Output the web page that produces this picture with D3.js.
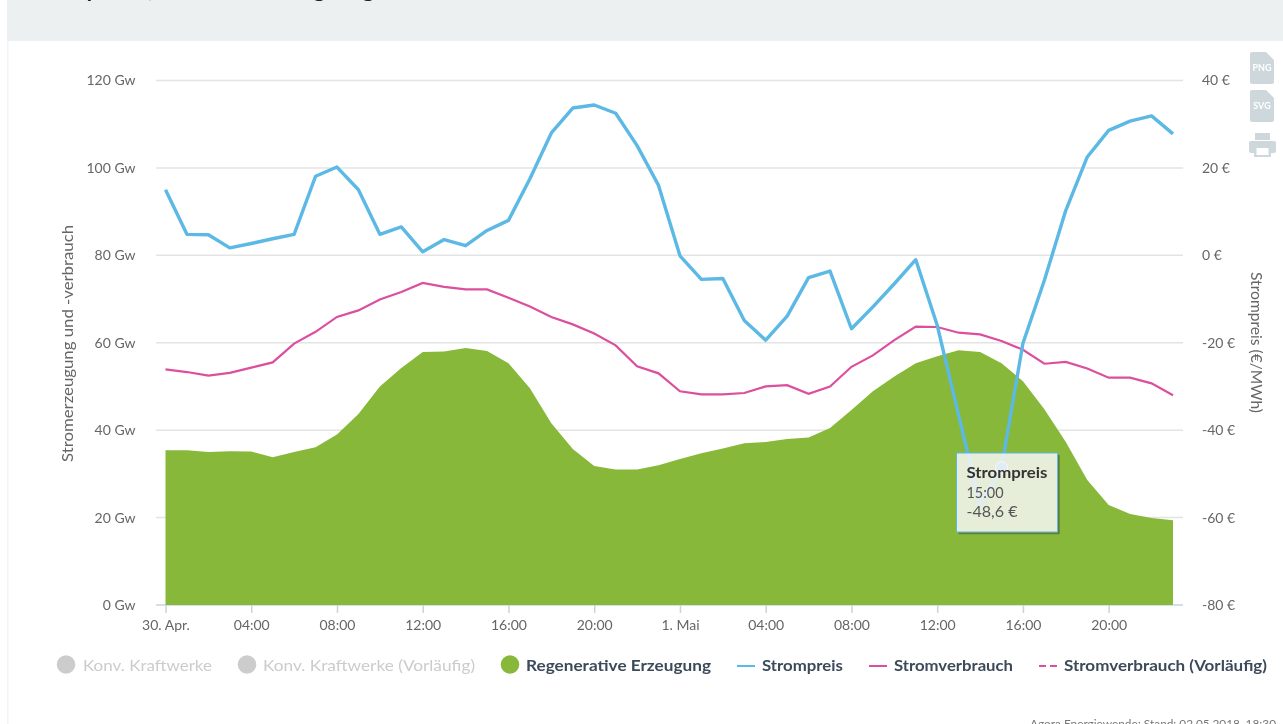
<!DOCTYPE html>
<html>
<head>
<meta charset="UTF-8">
<script src="https://d3js.org/d3.v7.min.js"></script>
<style>
  body { margin: 0; background: #fff; overflow: hidden; }
  svg { display: block; filter: blur(0.7px); font-family: Lato, sans-serif; }
</style>
</head>
<body>
<div id="my_dataviz"></div>

<script>
  // Data, one value per hour from 30. Apr. 00:00 to 1. Mai 23:00
  const hours = d3.range(48);

  const regenerative = [35.4, 35.4, 35, 35.2, 35.1, 33.8, 35, 36.1, 39, 43.7, 50, 54.2,
    57.9, 58, 58.8, 58.1, 55.3, 49.6, 41.6, 35.7, 31.8, 31, 31, 32,
    33.4, 34.7, 35.8, 37, 37.3, 38, 38.3, 40.5, 44.6, 48.9, 52.3, 55.3,
    56.9, 58.3, 57.9, 55.3, 51.2, 44.8, 37.3, 28.6, 22.9, 20.8, 19.9, 19.4];

  const consumption = [53.9, 53.3, 52.5, 53.1, 54.3, 55.5, 59.8, 62.5, 65.9, 67.4, 69.9, 71.6,
    73.7, 72.8, 72.2, 72.2, 70.3, 68.3, 65.9, 64.2, 62.1, 59.4, 54.6, 53,
    48.9, 48.2, 48.2, 48.5, 50, 50.3, 48.3, 50, 54.5, 57.1, 60.6, 63.7,
    63.6, 62.3, 61.9, 60.4, 58.4, 55.2, 55.6, 54.1, 52, 52, 50.7, 48];

  const price = [15, 4.8, 4.7, 1.7, 2.7, 3.8, 4.8, 18.1, 20.2, 15, 4.8, 6.5,
    0.8, 3.6, 2.2, 5.7, 8, 17.5, 28, 33.7, 34.4, 32.5, 25.1, 16,
    -0.1, -5.5, -5.3, -14.9, -19.4, -13.9, -5.1, -3.6, -16.8, -11.8, -6.5, -1,
    -16, -36.6, -57.1, -48.6, -20.1, -5.7, 10.3, 22.5, 28.6, 30.7, 31.9, 27.8];

  const xTicks = [0, 4, 8, 12, 16, 20, 24, 28, 32, 36, 40, 44];
  const xTickLabels = ["30. Apr.", "04:00", "08:00", "12:00", "16:00", "20:00",
    "1. Mai", "04:00", "08:00", "12:00", "16:00", "20:00"];
  const gwTicks = [0, 20, 40, 60, 80, 100, 120];
  const euroTicks = [-80, -60, -40, -20, 0, 20, 40];

  const legendItems = ["Konv. Kraftwerke", "Konv. Kraftwerke (Vorläufig)", "Regenerative Erzeugung",
    "Strompreis", "Stromverbrauch", "Stromverbrauch (Vorläufig)"];

  const tooltipIndex = 39;
  const tooltipLines = ["Strompreis", "15:00", "-48,6 €"];

  // Colors
  const green = "#88b83a", blue = "#5cb8e4", pink = "#dc4f9e", grey = "#cccccc";
  const gridColor = "#e4e4e4", axisColor = "#c6d4e2", labelColor = "#666666", legendColor = "#3c4a5a";

  // Dimensions
  const margin = {top: 80.5, right: 110, bottom: 119, left: 165.5},
        width = 1283 - margin.left - margin.right,
        height = 724 - margin.top - margin.bottom;

  const root = d3.select("#my_dataviz")
    .append("svg")
    .attr("width", 1283)
    .attr("height", 724);

  // Page furniture: header band, left border
  root.append("rect").attr("x", 7).attr("y", 0).attr("width", 1276).attr("height", 41).attr("fill", "#ecf0f1");
  root.append("rect").attr("x", 7).attr("y", 41).attr("width", 1.5).attr("height", 683).attr("fill", "#f0f4f5");

  // Only the descenders of the cut off page title are left in the picture
  root.selectAll(".title-rest")
    .data([{x: 85, t: "y"}, {x: 148, t: ","}, {x: 313, t: "g"}, {x: 362, t: "g"}])
    .join("text")
    .attr("x", d => d.x)
    .attr("y", -3)
    .attr("font-size", 24)
    .attr("font-weight", 700)
    .attr("fill", "#222")
    .text(d => d.t);

  const svg = root.append("g")
    .attr("transform", `translate(${margin.left},${margin.top})`);

  // Scales
  const x = d3.scaleLinear().domain([0, 47]).range([0, width]);
  const yGw = d3.scaleLinear().domain([0, 120]).range([height, 0]);
  const yEuro = d3.scaleLinear().domain([-80, 40]).range([height, 0]);

  // Gridlines + left labels
  const leftAxis = svg.append("g")
    .call(d3.axisLeft(yGw).tickValues(gwTicks).tickSize(0).tickPadding(30).tickFormat(d => `${d} Gw`));
  leftAxis.select(".domain").remove();
  leftAxis.selectAll("text")
    .attr("font-family", "Lato, sans-serif").attr("font-size", 14).attr("fill", labelColor);

  svg.append("g")
    .selectAll("line")
    .data(gwTicks)
    .join("line")
    .attr("x1", -9.5)
    .attr("x2", width + 10)
    .attr("y1", d => yGw(d))
    .attr("y2", d => yGw(d))
    .attr("stroke", d => d === 0 ? axisColor : gridColor)
    .attr("stroke-width", 1.5);

  // Right labels
  const rightAxis = svg.append("g")
    .attr("transform", `translate(${width},0)`)
    .call(d3.axisRight(yEuro).tickValues(euroTicks).tickSize(0).tickPadding(29).tickFormat(d => `${d} €`));
  rightAxis.select(".domain").remove();
  rightAxis.selectAll("text")
    .attr("font-family", "Lato, sans-serif").attr("font-size", 14).attr("fill", labelColor);

  // Area + lines
  svg.append("path")
    .datum(hours)
    .attr("fill", green)
    .attr("d", d3.area().x(i => x(i)).y0(height).y1(i => yGw(regenerative[i])));

  svg.append("path")
    .datum(hours)
    .attr("fill", "none")
    .attr("stroke", pink)
    .attr("stroke-width", 2.2)
    .attr("d", d3.line().x(i => x(i)).y(i => yGw(consumption[i])));

  svg.append("path")
    .datum(hours)
    .attr("fill", "none")
    .attr("stroke", blue)
    .attr("stroke-width", 3.4)
    .attr("stroke-linejoin", "round")
    .attr("d", d3.line().x(i => x(i)).y(i => yEuro(price[i])));

  // Bottom axis
  const bottomAxis = svg.append("g")
    .attr("transform", `translate(0,${height})`)
    .call(d3.axisBottom(x).tickValues(xTicks).tickSize(8).tickPadding(7).tickFormat((d, i) => xTickLabels[i]));
  bottomAxis.select(".domain").remove();
  bottomAxis.selectAll("line").attr("stroke", axisColor).attr("stroke-width", 1.5);
  bottomAxis.selectAll("text")
    .attr("font-family", "Lato, sans-serif").attr("font-size", 14).attr("fill", labelColor);

  // Axis titles
  svg.append("text")
    .attr("transform", `translate(${69 - margin.left},${343.5 - margin.top}) rotate(-90)`)
    .attr("text-anchor", "middle")
    .attr("dominant-baseline", "middle")
    .attr("font-size", 15)
    .attr("textLength", 237)
    .attr("lengthAdjust", "spacingAndGlyphs")
    .attr("fill", labelColor)
    .text("Stromerzeugung und -verbrauch");

  svg.append("text")
    .attr("transform", `translate(${1255 - margin.left},${342.5 - margin.top}) rotate(90)`)
    .attr("text-anchor", "middle")
    .attr("dominant-baseline", "middle")
    .attr("font-size", 15)
    .attr("textLength", 141)
    .attr("lengthAdjust", "spacingAndGlyphs")
    .attr("fill", labelColor)
    .text("Strompreis (€/MWh)");

  // Hover marker
  svg.append("circle")
    .attr("cx", x(tooltipIndex))
    .attr("cy", yEuro(price[tooltipIndex]))
    .attr("r", 6)
    .attr("fill", blue)
    .attr("stroke", "#fff")
    .attr("stroke-width", 1);

  // Tooltip, shadow only along the bottom and right edge
  const tip = root.append("g").attr("transform", "translate(956.5,453)");
  tip.append("path")
    .attr("d", "M2,80.2 H102.2 V2")
    .attr("fill", "none")
    .attr("stroke", "#333")
    .attr("stroke-opacity", 0.45)
    .attr("stroke-width", 2);
  tip.append("rect")
    .attr("width", 101).attr("height", 79)
    .attr("fill", "rgba(247,247,247,0.85)")
    .attr("stroke", blue)
    .attr("stroke-width", 1);
  tip.selectAll(".tip-line")
    .data(tooltipLines)
    .join("text")
    .attr("x", 10)
    .attr("y", (d, i) => 25 + i * 19.5)
    .attr("font-size", 15)
    .attr("font-weight", (d, i) => i === 0 ? 700 : 400)
    .attr("textLength", (d, i) => [81, 37, 51][i])
    .attr("lengthAdjust", "spacingAndGlyphs")
    .attr("fill", (d, i) => i === 0 ? "#333" : "#555")
    .text(d => d);

  // Legend
  const legend = root.append("g");
  const legendPos = [
    {sym: 66, tx: 83, tw: 129}, {sym: 247, tx: 263, tw: 212}, {sym: 510, tx: 526, tw: 185},
    {sym: 746, tx: 762, tw: 81}, {sym: 878, tx: 894, tw: 119}, {sym: 1048, tx: 1064, tw: 203}
  ];
  const legendMarks = ["circle", "circle", "circle", "line", "line", "dash"];
  const legendColors = [grey, grey, green, blue, pink, pink];

  legendItems.forEach((name, i) => {
    const p = legendPos[i];
    if (legendMarks[i] === "circle") {
      legend.append("circle").attr("cx", p.sym).attr("cy", 664.5).attr("r", 9.3).attr("fill", legendColors[i]);
    } else {
      legend.append("line")
        .attr("x1", p.sym - 9).attr("x2", p.sym + 9).attr("y1", 666).attr("y2", 666)
        .attr("stroke", legendColors[i]).attr("stroke-width", 2)
        .attr("stroke-dasharray", legendMarks[i] === "dash" ? "7,4" : null);
    }
    legend.append("text")
      .attr("x", p.tx)
      .attr("y", 671)
      .attr("font-size", 15)
      .attr("font-weight", i < 2 ? 400 : 700)
      .attr("textLength", p.tw)
      .attr("lengthAdjust", "spacingAndGlyphs")
      .attr("fill", i < 2 ? grey : legendColor)
      .text(name);
  });

  // Export icons
  const iconColor = "#cdd7dc";
  const icons = root.append("g");
  [{y: 52, t: "PNG"}, {y: 90, t: "SVG"}].forEach(d => {
    icons.append("path")
      .attr("d", `M1250,${d.y + 2} q0,-2 2,-2 h14 l8,8 v22 q0,2 -2,2 h-20 q-2,0 -2,-2 z`)
      .attr("fill", iconColor);
    icons.append("text")
      .attr("x", 1262).attr("y", d.y + 19)
      .attr("text-anchor", "middle")
      .attr("font-size", 9).attr("font-weight", 700)
      .attr("fill", "#fff")
      .text(d.t);
  });
  icons.append("path")
    .attr("d", "M1255,133 h15 v7 h-15 z M1251,141 h23 q2,0 2,2 v8 q0,2 -2,2 h-3 v4 h-17 v-4 h-3 q-2,0 -2,-2 v-8 q0,-2 2,-2 z")
    .attr("fill", iconColor);
  icons.append("rect").attr("x", 1256.5).attr("y", 148).attr("width", 12).attr("height", 7).attr("fill", "#fff");

  // Credit, cut off by the bottom edge
  root.append("text")
    .attr("x", 1276)
    .attr("y", 728)
    .attr("text-anchor", "end")
    .attr("font-size", 12)
    .attr("textLength", 246)
    .attr("lengthAdjust", "spacingAndGlyphs")
    .attr("fill", "#777")
    .text("Agora Energiewende; Stand: 02.05.2018, 18:30");
</script>
</body>
</html>
